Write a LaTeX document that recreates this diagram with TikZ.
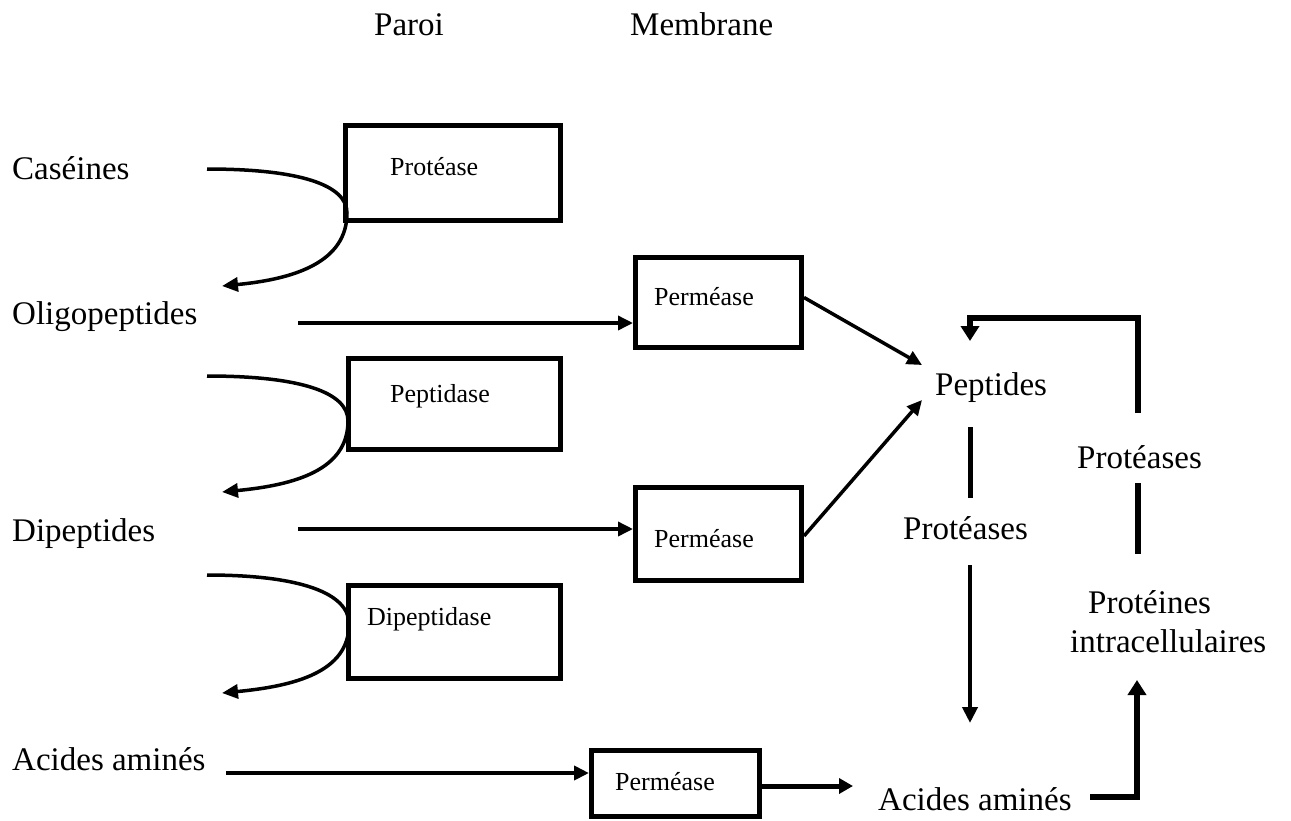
\documentclass[tikz,border=0pt]{standalone}
\usepackage{fontspec}
\setmainfont{Liberation Serif}
\usetikzlibrary{arrows.meta,calc}
\begin{document}
\begin{tikzpicture}[x=1pt,y=-1pt,
  big/.style={font=\fontsize{33}{40}\selectfont, inner sep=0pt, anchor=base west},
  small/.style={font=\fontsize{26}{31}\selectfont, inner sep=0pt, anchor=base west},
  enz/.style={draw, line width=5pt, inner sep=0pt, rectangle},
  tarrow/.style={line width=3.5pt, -{Triangle[length=15pt,width=14pt]}},
  curvearrow/.style={line width=3.5pt, -{Triangle[length=16pt,width=14pt]}},
  thickline/.style={line width=5.5pt, line join=miter},
  thickarrow/.style={line width=5.5pt, line join=miter, -{Triangle[length=15pt,width=18pt]}}]
\useasboundingbox (0,0) rectangle (1291,820);

% header labels
\node[big] (paroi) at (374,35) {Paroi};
\node[big] (membrane) at (630,35) {Membrane};

% left labels
\node[big] (caseines) at (12,179) {Caséines};
\node[big] (oligo) at (12,324) {Oligopeptides};
\node[big] (dipep) at (12,541) {Dipeptides};
\node[big] (aa1) at (12,770) {Acides aminés};

% right labels
\node[big] (peptides) at (935,395) {Peptides};
\node[big] (proteasesA) at (903,539) {Protéases};
\node[big] (proteasesB) at (1077,468) {Protéases};
\node[big] (proteines) at (1088,613) {Protéines};
\node[big] (intra) at (1070,652) {intracellulaires};
\node[big] (aa2) at (878,810) {Acides aminés};

% enzyme boxes
\node[enz, minimum width=215pt, minimum height=95pt] (prot) at (453,173) {};
\node[enz, minimum width=212pt, minimum height=91pt] (pepd) at (454.5,404) {};
\node[enz, minimum width=212pt, minimum height=93pt] (dipd) at (454.5,632) {};
\node[enz, minimum width=166pt, minimum height=90pt] (p1) at (718.5,302.5) {};
\node[enz, minimum width=166pt, minimum height=93pt] (p2) at (718.5,534) {};
\node[enz, minimum width=168pt, minimum height=66pt] (p3) at (675.5,783.5) {};

\node[small] (lprot) at (390,175) {Protéase};
\node[small] (lpepd) at (390,402) {Peptidase};
\node[small] (ldipd) at (367,625) {Dipeptidase};
\node[small] (lp1) at (654,305) {Perméase};
\node[small] (lp2) at (654,547) {Perméase};
\node[small] (lp3) at (615,790) {Perméase};

% curved hydrolysis arrows
\coordinate (c1s) at (207,169); \coordinate (c1m) at (347,213); \coordinate (c1t) at (222,286);
\draw[curvearrow] (c1s) .. controls (300,169) and (347,185) .. (c1m) .. controls (347,262) and (295,279) .. (c1t);
\coordinate (c2s) at (207,376); \coordinate (c2m) at (348,421); \coordinate (c2t) at (222,492);
\draw[curvearrow] (c2s) .. controls (300,376) and (348,392) .. (c2m) .. controls (348,470) and (295,485) .. (c2t);
\coordinate (c3s) at (207,575); \coordinate (c3m) at (349,624); \coordinate (c3t) at (222,693);
\draw[curvearrow] (c3s) .. controls (300,575) and (349,593) .. (c3m) .. controls (349,672) and (295,686) .. (c3t);

% transport arrows
\coordinate (o1) at (298,323);
\draw[tarrow] (o1) -- (o1 -| p1.west);
\coordinate (d1) at (298,529);
\draw[tarrow] (d1) -- (d1 -| p2.west);
\coordinate (a1) at (226,773);
\draw[line width=4pt, -{Triangle[length=15pt,width=14pt]}] (a1) -- (a1 -| p3.west);

% to peptides
\coordinate (pt1) at (922,365);
\coordinate (pt2) at (922,400);
\draw[tarrow] ($(p1.east)+(0,-5)$) -- (pt1);
\draw[tarrow] ($(p2.east)+(0,2)$) -- (pt2);

% Perméase 3 -> acides aminés
\coordinate (aa2in) at (853,786);
\draw[line width=5pt, -{Triangle[length=14pt,width=15pt]}] ($(p3.east)+(0,2.5)$) -- (aa2in);

% peptides -> acides aminés (interrupted by label)
\coordinate (v1a) at (970,427); \coordinate (v1b) at (970,498);
\draw[line width=5pt] (v1a) -- (v1b);
\coordinate (v2a) at (970,565); \coordinate (v2b) at (970,723);
\draw[line width=4.5pt, -{Triangle[length=16pt,width=15pt]}] (v2a) -- (v2b);

% protéines -> peptides feedback
\coordinate (f1) at (1138,413); \coordinate (f2) at (1138,318); \coordinate (f3) at (970,318); \coordinate (f4) at (970,341);
\draw[thickarrow] (f1) -- (f2) -- (f3) -- (f4);
\coordinate (f5) at (1138,483); \coordinate (f6) at (1138,554);
\draw[thickline] (f5) -- (f6);

% acides aminés -> protéines
\coordinate (u1) at (1090,797); \coordinate (u2) at (1137,797); \coordinate (u3) at (1137,680);
\draw[thickarrow] (u1) -- (u2) -- (u3);
\end{tikzpicture}
\end{document}
